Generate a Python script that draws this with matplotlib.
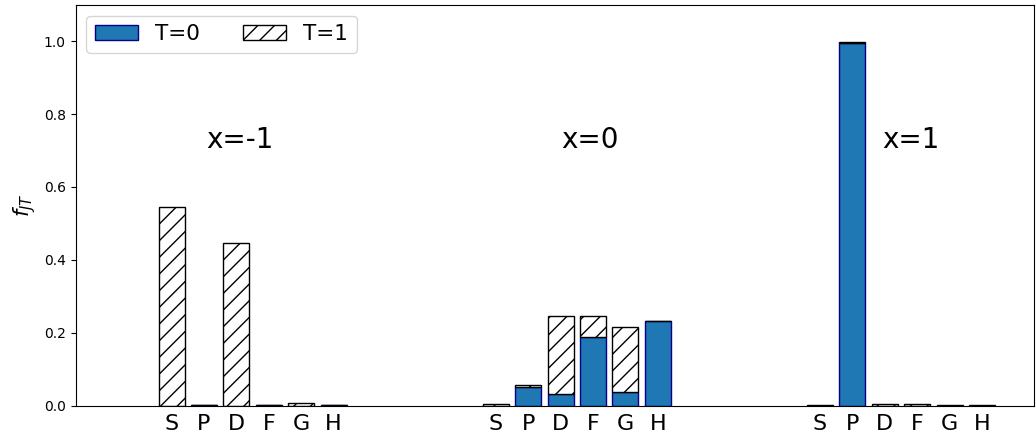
import matplotlib.pyplot as plt
import numpy as np

orbitals = ['S', 'P', 'D', 'F', 'G', 'H']
groups = ['x=-1', 'x=0', 'x=1']

# T=0 part of f_JT, per group
t0 = [
    [0.0, 0.001, 0.0, 0.001, 0.0, 0.001],
    [0.0, 0.052, 0.033, 0.187, 0.038, 0.231],
    [0.0, 0.995, 0.0, 0.0, 0.0, 0.0],
]
# T=1 part of f_JT, per group
t1 = [
    [0.545, 0.0, 0.446, 0.0, 0.008, 0.0],
    [0.005, 0.004, 0.213, 0.059, 0.179, 0.0],
    [0.001, 0.003, 0.004, 0.004, 0.001, 0.001],
]

fig = plt.figure(figsize=(10.36, 4.38), dpi=100)
ax = fig.add_axes([0.073, 0.074, 0.925, 0.915])

ticks = []
labels = []
for i in range(3):
    x = 10 * i + np.arange(6)
    ax.bar(x, t0[i], width=0.8, color='#1f77b4', edgecolor='darkblue',
           label='T=0' if i == 0 else None)
    ax.bar(x, t1[i], width=0.8, bottom=t0[i], color='white', edgecolor='black',
           hatch='//', label='T=1' if i == 0 else None)
    ticks += list(x)
    labels += orbitals

ax.text(2.1, 0.73, groups[0], fontsize=20, ha='center', va='center')
ax.text(12.9, 0.73, groups[1], fontsize=20, ha='center', va='center')
ax.text(22.8, 0.73, groups[2], fontsize=20, ha='center', va='center')

ax.set_xticks(ticks)
ax.set_xticklabels(labels, fontsize=16)
ax.tick_params(axis='x', length=0, pad=6)
ax.set_xlim(-2.96, 26.6)
ax.set_ylim(0, 1.1)
ax.set_ylabel('$f_{JT}$', fontsize=15)
ax.legend(loc='upper left', ncol=2, fontsize=15.5)

plt.savefig('out.png')
